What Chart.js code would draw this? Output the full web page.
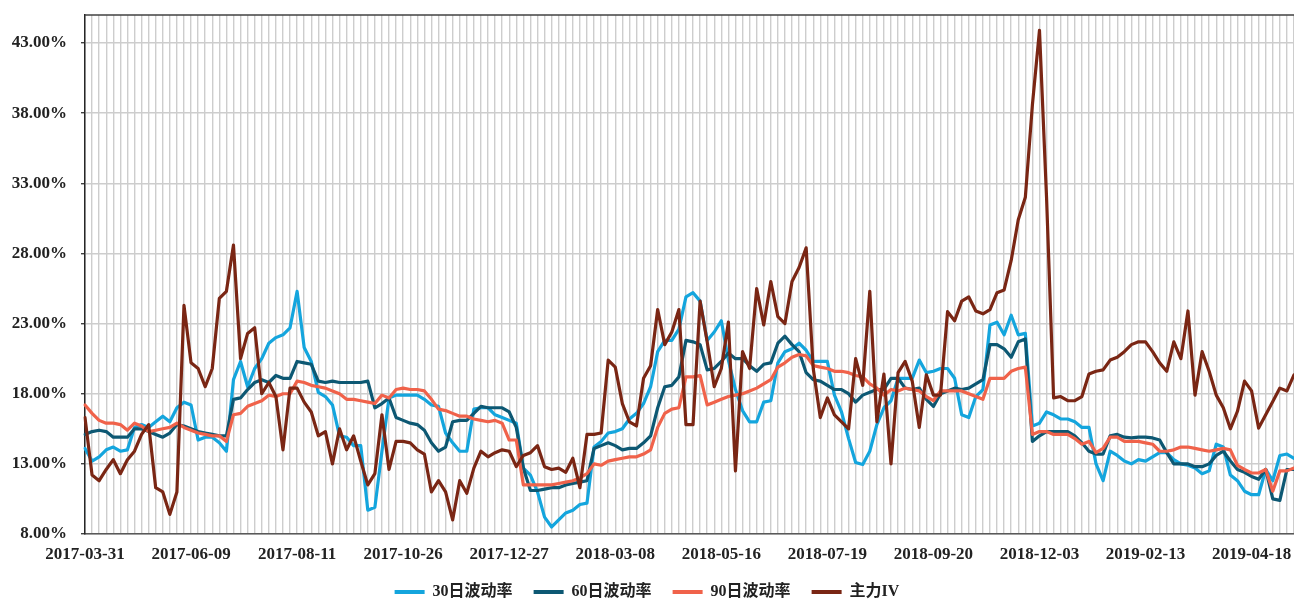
<!DOCTYPE html>
<html>
<head>
<meta charset="utf-8">
<script src="https://cdn.jsdelivr.net/npm/chart.js@4.4.1/dist/chart.umd.min.js"></script>
<style>
  body { margin: 0; background: #ffffff; overflow: hidden; }
  #wrap { width: 1294px; height: 601px; position: relative; }
</style>
</head>
<body>
<div id="wrap"><canvas id="vol_chart"></canvas></div>
<script>
// tick labels on the date axis, one every 45 trading days
const dateTicks = ['2017-03-31', '2017-06-09', '2017-08-11', '2017-10-26', '2017-12-27', '2018-03-08',
    '2018-05-16', '2018-07-19', '2018-09-20', '2018-12-03', '2019-02-13', '2019-04-18'];
const samplesPerTick = 15; // values read every 3 trading days
const yTicks = [8, 13, 18, 23, 28, 33, 38, 43];

// series values (%)
const vol30 = [14.1, 13.2, 13.5, 14.0, 14.2, 13.9, 14.0, 15.6, 15.8, 15.6, 16.0, 16.4, 16.0, 17.0, 17.4, 17.2, 14.7, 14.9, 14.9, 14.5, 13.9, 19.0, 20.3, 18.5, 19.8, 20.5, 21.6, 22.0, 22.2, 22.7,
    25.3, 21.3, 20.3, 18.1, 17.8, 17.2, 15.0, 14.9, 14.3, 14.3, 9.7, 9.9, 13.9, 17.7, 17.9, 17.9, 17.9, 17.9, 17.6, 17.2, 17.1, 15.2, 14.5, 13.9, 13.9, 16.9, 17.0, 17.0,
    16.5, 16.3, 16.1, 15.9, 12.7, 12.2, 11.0, 9.2, 8.5, 9.0, 9.5, 9.7, 10.1, 10.2, 14.2, 14.6, 15.2, 15.3, 15.5, 16.2, 16.6, 17.3, 18.5, 21.0, 21.8, 21.8, 22.6, 24.9,
    25.2, 24.6, 21.8, 22.4, 23.2, 20.4, 18.3, 16.8, 16.0, 16.0, 17.4, 17.5, 20.2, 21.0, 21.2, 21.6, 21.1, 20.3, 20.3, 20.3, 17.9, 16.7, 14.8, 13.1, 12.95, 13.9, 15.8, 17.0,
    17.5, 19.1, 19.1, 19.1, 20.4, 19.5, 19.6, 19.8, 19.8, 19.1, 16.5, 16.3, 17.8, 18.3, 22.9, 23.1, 22.2, 23.6, 22.2, 22.3, 15.7, 15.9, 16.7, 16.5, 16.2, 16.2, 16.0, 15.6,
    15.6, 13.0, 11.8, 13.9, 13.6, 13.2, 13.0, 13.3, 13.2, 13.5, 13.8, 13.8, 13.3, 13.0, 12.9, 12.7, 12.3, 12.5, 14.4, 14.2, 12.2, 11.8, 11.05, 10.8, 10.8, 12.6, 11.8, 13.6, 13.7, 13.4];

const vol60 = [15.1, 15.3, 15.4, 15.3, 14.9, 14.9, 14.9, 15.5, 15.5, 15.3, 15.1, 14.9, 15.2, 15.8, 15.7, 15.5, 15.3, 15.2, 15.1, 15.0, 15.0, 17.6, 17.7, 18.3, 18.8, 19.0, 18.8, 19.3, 19.1, 19.1,
    20.3, 20.2, 20.1, 18.9, 18.8, 18.9, 18.8, 18.8, 18.8, 18.8, 18.9, 17.0, 17.3, 17.7, 16.3, 16.1, 15.9, 15.8, 15.4, 14.5, 13.9, 14.2, 16.0, 16.1, 16.1, 16.6, 17.1, 17.0,
    17.0, 17.0, 16.7, 15.6, 12.7, 11.1, 11.1, 11.2, 11.3, 11.3, 11.5, 11.6, 11.7, 11.8, 14.1, 14.3, 14.5, 14.3, 14.0, 14.1, 14.1, 14.5, 15.0, 17.0, 18.5, 18.6, 19.2, 21.8,
    21.7, 21.5, 19.7, 19.8, 20.3, 20.9, 20.5, 20.5, 20.0, 19.6, 20.1, 20.2, 21.6, 22.1, 21.5, 21.0, 19.5, 19.0, 18.9, 18.6, 18.3, 18.3, 18.0, 17.4, 17.9, 18.1, 18.3, 18.3,
    19.1, 19.1, 18.4, 18.3, 18.4, 17.6, 17.1, 18.0, 18.2, 18.4, 18.3, 18.4, 18.7, 19.0, 21.5, 21.5, 21.2, 20.6, 21.7, 21.9, 14.6, 15.0, 15.3, 15.3, 15.3, 15.3, 15.0, 14.5,
    13.9, 13.7, 13.7, 15.0, 15.1, 14.9, 14.85, 14.9, 14.9, 14.85, 14.7, 13.8, 13.0, 13.0, 13.0, 12.8, 12.8, 13.0, 13.6, 13.9, 13.2, 12.6, 12.4, 12.1, 11.9, 12.6, 10.5, 10.4, 12.6, 12.6];

const vol90 = [17.2, 16.6, 16.1, 15.9, 15.9, 15.8, 15.4, 15.9, 15.7, 15.3, 15.4, 15.5, 15.6, 15.9, 15.6, 15.4, 15.2, 15.1, 15.0, 15.0, 14.6, 16.5, 16.6, 17.1, 17.3, 17.5, 17.9, 17.8, 18.0, 18.0,
    18.9, 18.8, 18.6, 18.5, 18.4, 18.2, 18.0, 17.6, 17.6, 17.5, 17.4, 17.3, 17.9, 17.7, 18.3, 18.4, 18.3, 18.3, 18.2, 17.6, 16.9, 16.8, 16.6, 16.4, 16.4, 16.2, 16.1, 16.0,
    16.1, 15.9, 14.7, 14.7, 11.5, 11.5, 11.5, 11.5, 11.5, 11.6, 11.7, 11.8, 12.0, 12.3, 13.0, 12.9, 13.2, 13.3, 13.4, 13.5, 13.5, 13.7, 14.0, 15.6, 16.6, 16.9, 17.0, 19.2,
    19.2, 19.3, 17.2, 17.4, 17.6, 17.8, 17.9, 18.0, 18.2, 18.4, 18.7, 19.0, 19.9, 20.2, 20.6, 20.8, 20.7, 20.0, 19.9, 19.8, 19.6, 19.6, 19.5, 19.3, 19.2, 18.7, 18.4, 17.9,
    18.3, 18.2, 18.4, 18.3, 18.2, 17.8, 17.5, 18.2, 18.2, 18.2, 18.2, 18.0, 17.8, 17.6, 19.1, 19.1, 19.1, 19.6, 19.8, 19.9, 15.1, 15.3, 15.3, 15.1, 15.1, 15.1, 14.8, 14.4,
    14.6, 13.8, 14.1, 14.9, 14.9, 14.6, 14.6, 14.6, 14.5, 14.4, 13.9, 13.9, 14.0, 14.2, 14.2, 14.1, 14.0, 13.9, 14.0, 14.1, 14.0, 12.9, 12.6, 12.35, 12.35, 12.6, 11.05, 12.5, 12.5, 12.7];

const ivMain = [16.3, 12.2, 11.8, 12.6, 13.3, 12.3, 13.3, 13.9, 15.1, 15.8, 11.3, 11.0, 9.4, 11.0, 24.3, 20.2, 19.8, 18.5, 19.8, 24.8, 25.3, 28.6, 20.5, 22.3, 22.7, 18.0, 18.8, 17.8, 14.0, 18.4,
    18.4, 17.4, 16.7, 15.0, 15.3, 13.0, 15.5, 14.0, 15.0, 13.2, 11.5, 12.3, 16.5, 12.6, 14.6, 14.6, 14.5, 14.0, 13.7, 11.0, 11.8, 11.0, 9.0, 11.8, 10.9, 12.7, 13.9, 13.5,
    13.8, 14.0, 13.9, 12.8, 13.6, 13.8, 14.3, 12.8, 12.6, 12.7, 12.4, 13.4, 11.3, 15.1, 15.1, 15.2, 20.4, 19.9, 17.3, 16.0, 15.7, 19.1, 20.0, 24.0, 21.5, 22.4, 24.0, 15.8,
    15.8, 24.6, 21.7, 18.5, 19.8, 23.1, 12.5, 21.0, 19.8, 25.5, 22.9, 26.0, 23.5, 23.0, 26.0, 27.0, 28.4, 19.8, 16.3, 17.7, 16.5, 16.0, 15.5, 20.5, 18.6, 25.3, 16.0, 19.4,
    13.0, 19.5, 20.3, 18.9, 15.6, 19.35, 17.9, 17.9, 23.85, 23.2, 24.6, 24.9, 23.9, 23.7, 24.0, 25.2, 25.4, 27.5, 30.4, 32.0, 38.6, 43.9, 32.0, 17.7, 17.8, 17.5, 17.5, 17.8,
    19.4, 19.6, 19.7, 20.4, 20.6, 21.0, 21.5, 21.7, 21.7, 21.0, 20.2, 19.6, 21.7, 20.5, 23.9, 17.9, 21.0, 19.6, 17.9, 17.0, 15.5, 16.75, 18.9, 18.2, 15.55, 16.5, 17.45, 18.4, 18.2, 19.35];

// category labels: only every 15th sample carries a date
const labels = vol30.map((v, i) => (i % samplesPerTick === 0 && dateTicks[i / samplesPerTick]) ? dateTicks[i / samplesPerTick] : '');

const tickFont = { family: "'Liberation Serif', 'Times New Roman', serif", size: 17, weight: 'bold' };
const legendFont = { family: "'Liberation Serif', 'Noto Sans CJK SC', serif", size: 16, weight: 'bold' };

//plugin for the dark frame line at the top of the plot
const topBorder = {
    id: 'topBorder',
    afterDraw(chart) {
        const { ctx, chartArea } = chart;
        ctx.save();
        ctx.strokeStyle = '#404040';
        ctx.lineWidth = 1.5;
        ctx.beginPath();
        ctx.moveTo(chartArea.left, chartArea.top);
        ctx.lineTo(chartArea.right, chartArea.top);
        ctx.stroke();
        ctx.restore();
    }
};

function makeSet(label, data, color, order) {
    return {
        label: label,
        data: data,
        borderColor: color,
        backgroundColor: color,
        borderWidth: 3.2,
        pointRadius: 0,
        tension: 0,
        borderJoinStyle: 'round',
        borderCapStyle: 'round',
        order: order
    };
}

new Chart(document.getElementById('vol_chart'), {
    type: 'line',
    data: {
        labels: labels,
        datasets: [
            makeSet('30日波动率', vol30, '#14A5DD', 4),
            makeSet('60日波动率', vol60, '#0D5873', 3),
            makeSet('90日波动率', vol90, '#F0624A', 2),
            makeSet('主力IV', ivMain, '#7A2614', 1)
        ]
    },
    options: {
        responsive: true,
        maintainAspectRatio: false,
        animation: false,
        layout: { autoPadding: false, padding: { top: 15, right: 0, left: 0, bottom: 0 } },
        scales: {
            x: {
                type: 'category',
                offset: false,
                grid: { color: '#CDCDCD', lineWidth: 1.4, drawTicks: false },
                border: { color: '#595959', width: 1.5 },
                ticks: {
                    autoSkip: false,
                    maxRotation: 0,
                    minRotation: 0,
                    padding: 10,
                    color: '#222',
                    font: tickFont
                },
                afterFit(scale) {
                    scale.height = 29;
                    scale.paddingLeft = 0;
                    scale.paddingRight = 0;
                }
            },
            y: {
                min: 8,
                max: 45,
                afterBuildTicks(scale) { scale.ticks = yTicks.map(v => ({ value: v })); },
                grid: { color: '#CDCDCD', lineWidth: 1.4, tickLength: 4, tickColor: '#404040' },
                border: { color: '#262626', width: 1.5 },
                ticks: {
                    padding: 14,
                    color: '#222',
                    font: tickFont,
                    callback: function(value) {
                        return value.toFixed(2) + '%';
                    }
                },
                afterFit(scale) {
                    scale.width = 85;
                    scale.paddingTop = 0;
                    scale.paddingBottom = 0;
                }
            }
        },
        plugins: {
            legend: {
                position: 'bottom',
                maxHeight: 38,
                labels: {
                    boxWidth: 30,
                    boxHeight: 4,
                    padding: 21,
                    color: '#222',
                    font: legendFont,
                    sort: (a, b) => a.datasetIndex - b.datasetIndex,
                    generateLabels: function(chart) {
                        return Chart.defaults.plugins.legend.labels.generateLabels(chart)
                            .map(item => Object.assign(item, { lineWidth: 0 }));
                    }
                }
            },
            tooltip: { enabled: false }
        }
    },
    plugins: [topBorder]
});
</script>
</body>
</html>
